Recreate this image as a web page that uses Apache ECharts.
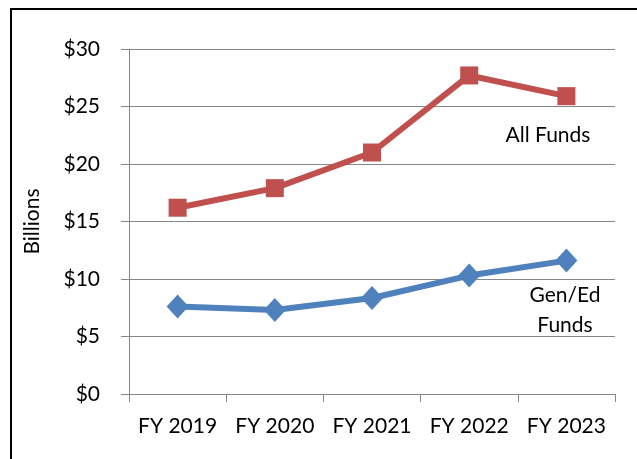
<!DOCTYPE html>
<html>
<head>
<meta charset="utf-8">
<script src="https://cdn.jsdelivr.net/npm/echarts@6/dist/echarts.min.js"></script>
<style>
  html, body { margin: 0; padding: 0; background: #fff; }
  #chart { width: 637px; height: 459px; }
</style>
</head>
<body>
<div id="chart"></div>
<script>
const years = ["FY 2019", "FY 2020", "FY 2021", "FY 2022", "FY 2023"];
const allFunds = [16.2, 17.9, 21.0, 27.7, 25.9];
const genEdFunds = [7.6, 7.3, 8.35, 10.3, 11.6];

const chart = echarts.init(document.getElementById("chart"));
const font = "Lato, 'Open Sans', sans-serif";
const gray = "#868686";

chart.setOption({
    animation: false,
    grid: {left: 129, right: 22, top: 49, bottom: 65},
    xAxis: {
        type: "category",
        data: years,
        boundaryGap: true,
        axisLine: {lineStyle: {color: gray, width: 1}},
        axisTick: {show: true, length: 8, lineStyle: {color: gray}},
        axisLabel: {color: "#000", fontSize: 21, fontFamily: font, margin: 22,
            interval: 0, hideOverlap: false}
    },
    yAxis: {
        type: "value",
        min: 0, max: 30, interval: 5,
        name: "Billions",
        nameLocation: "middle",
        nameGap: 86,
        nameTextStyle: {color: "#000", fontSize: 21, fontFamily: font},
        axisLine: {show: true, lineStyle: {color: gray, width: 1}},
        axisTick: {show: true, length: 8, lineStyle: {color: gray}},
        splitLine: {lineStyle: {color: gray, width: 1}},
        axisLabel: {
            color: "#000", fontSize: 21, fontFamily: font, margin: 29,
            formatter: v => "$" + v
        }
    },
    series: [{
        name: "All Funds",
        type: "line",
        data: allFunds,
        symbol: "rect",
        symbolSize: 18,
        lineStyle: {color: "#C0504D", width: 6},
        itemStyle: {color: "#C0504D"}
    }, {
        name: "Gen/Ed Funds",
        type: "line",
        data: genEdFunds,
        symbol: "diamond",
        symbolSize: [22, 24],
        lineStyle: {color: "#4F81BD", width: 6},
        itemStyle: {color: "#4F81BD"}
    }],
    graphic: [{
        type: "rect",
        shape: {x: 11, y: 9, width: 700, height: 500},
        style: {fill: "none", stroke: "#000", lineWidth: 2},
        silent: true
    }, {
        type: "text",
        x: 548, y: 135,
        style: {text: "All Funds", fill: "#000", fontSize: 21, fontFamily: font,
            align: "center", verticalAlign: "middle"}
    }, {
        type: "text",
        x: 565, y: 310,
        style: {text: "Gen/Ed\nFunds", fill: "#000", fontSize: 21, fontFamily: font,
            lineHeight: 30, align: "center", verticalAlign: "middle"}
    }]
});
</script>
</body>
</html>
